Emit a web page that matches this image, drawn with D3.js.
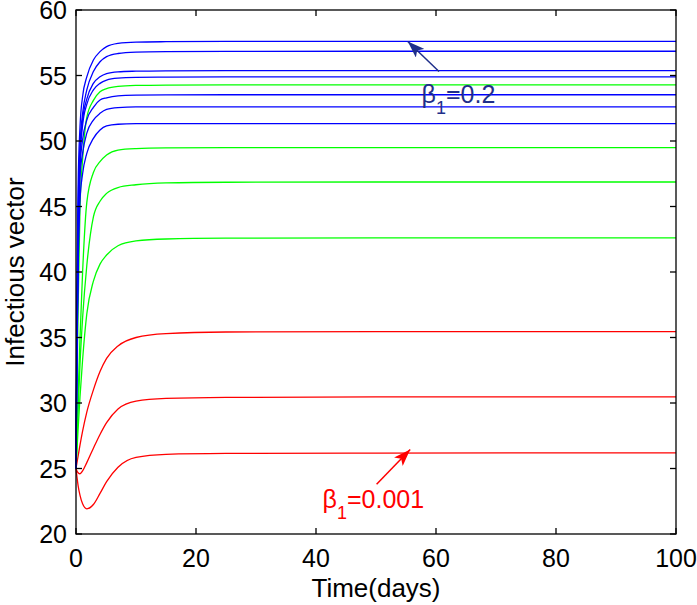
<!DOCTYPE html>
<html><head><meta charset="utf-8">
<script src="https://cdn.jsdelivr.net/npm/d3@7/dist/d3.min.js"></script>
<style>body{margin:0;background:#fff}svg{display:block}text{font-family:"Liberation Sans",Arial,sans-serif}</style>
</head><body><svg id="c" width="697" height="605"></svg>
<script>
const time = [0, 0.15, 0.35, 0.67, 1.1, 1.8, 2.9, 4, 5.1, 7, 10, 15, 25, 50, 100];
const blue1 = [25, 38, 46.5, 51.1, 53.4, 54.9, 56.18, 56.82, 57.2, 57.45, 57.55, 57.58, 57.6, 57.6, 57.6];
const blue2 = [25, 36, 44.5, 49.6, 52.1, 53.9, 55.3, 56.05, 56.44, 56.68, 56.78, 56.82, 56.84, 56.85, 56.85];
const blue3 = [25, 35, 43.5, 49.0, 51.6, 53.2, 54.4, 54.9, 55.15, 55.28, 55.33, 55.36, 55.37, 55.37, 55.37];
const blue4 = [25, 34.5, 43, 48.5, 51.2, 52.8, 53.9, 54.4, 54.65, 54.8, 54.86, 54.88, 54.9, 54.9, 54.9];
const blue5 = [25, 34, 42, 48.0, 50.1, 51.6, 52.57, 53.13, 53.3, 53.45, 53.5, 53.52, 53.53, 53.53, 53.53];
const blue6 = [25, 33.5, 41, 47.3, 49.06, 50.6, 51.6, 52.11, 52.42, 52.55, 52.6, 52.6, 52.6, 52.6, 52.6];
const blue7 = [25, 33, 40, 45.5, 47.5, 49.06, 50.2, 50.84, 51.15, 51.28, 51.32, 51.33, 51.33, 51.33, 51.33];
const green1 = [25, 31, 37, 45, 48.6, 51.8, 53.1, 53.76, 54.0, 54.17, 54.24, 54.27, 54.28, 54.28, 54.28];
const green2 = [25, 27.5, 30.5, 35, 40, 45.3, 47.6, 48.42, 48.93, 49.31, 49.42, 49.47, 49.49, 49.5, 49.5];
const green3 = [25, 27, 29.5, 33, 36.5, 40.5, 44.2, 45.4, 46.0, 46.45, 46.66, 46.8, 46.85, 46.87, 46.87];
const green4 = [25, 26.3, 28, 30.5, 33.3, 36.8, 39.3, 40.6, 41.3, 42.0, 42.37, 42.52, 42.58, 42.6, 42.6];
const red1 = [25, 25.4, 25.95, 26.8, 27.85, 29.3, 31.0, 32.4, 33.4, 34.35, 35.0, 35.3, 35.42, 35.45, 35.45];
const red2 = [25, 24.82, 24.68, 24.6, 24.82, 25.45, 26.55, 27.6, 28.5, 29.55, 30.15, 30.35, 30.43, 30.46, 30.46];
const red3 = [25, 24.4, 23.7, 22.95, 22.3, 21.92, 22.25, 23.1, 24.0, 25.1, 25.85, 26.08, 26.15, 26.18, 26.2];
const xTicks = [0, 20, 40, 60, 80, 100];
const yTicks = [20, 25, 30, 35, 40, 45, 50, 55, 60];

const series = [
  {c: "#ff0000", v: red1}, {c: "#ff0000", v: red2}, {c: "#ff0000", v: red3},
  {c: "#00ff00", v: green1}, {c: "#00ff00", v: green2}, {c: "#00ff00", v: green3}, {c: "#00ff00", v: green4},
  {c: "#0000ff", v: blue1}, {c: "#0000ff", v: blue2}, {c: "#0000ff", v: blue3}, {c: "#0000ff", v: blue4},
  {c: "#0000ff", v: blue5}, {c: "#0000ff", v: blue6}, {c: "#0000ff", v: blue7}
];

const L = 76, R = 676, T = 10, B = 534;
const svg = d3.select("#c");
const x = d3.scaleLinear().domain([0, 100]).range([L, R]);
const y = d3.scaleLinear().domain([20, 60]).range([B, T]);

const defs = svg.append("defs");
function marker(id, col) {
  defs.append("marker").attr("id", id).attr("viewBox", "0 0 17 12").attr("refX", 17).attr("refY", 6)
    .attr("markerWidth", 17).attr("markerHeight", 12).attr("markerUnits", "userSpaceOnUse").attr("orient", "auto")
    .append("path").attr("d", "M0,0 L17,6 L0,12 L4,6 Z").attr("fill", col);
}
marker("mb", "#1f2f8a");
marker("mr", "#ff0000");

const line = d3.line().x((d, i) => x(time[i])).y(d => y(d)).curve(d3.curveMonotoneX);
svg.append("g").selectAll("path").data(series).join("path")
  .attr("d", d => line(d.v)).attr("fill", "none").attr("stroke", d => d.c).attr("stroke-width", 1.3);

// axes
const tl = 6;
const ax = svg.append("g").attr("stroke", "#000").attr("stroke-width", 1.3).attr("fill", "none");
ax.append("rect").attr("x", L).attr("y", T).attr("width", R - L).attr("height", B - T);
xTicks.forEach(t => {
  ax.append("line").attr("x1", x(t)).attr("x2", x(t)).attr("y1", B).attr("y2", B - tl);
  ax.append("line").attr("x1", x(t)).attr("x2", x(t)).attr("y1", T).attr("y2", T + tl);
});
yTicks.forEach(t => {
  ax.append("line").attr("y1", y(t)).attr("y2", y(t)).attr("x1", L).attr("x2", L + tl);
  ax.append("line").attr("y1", y(t)).attr("y2", y(t)).attr("x1", R).attr("x2", R - tl);
});
const fs = 25;
svg.append("g").selectAll("text").data(xTicks).join("text")
  .attr("x", d => x(d)).attr("y", 567).attr("text-anchor", "middle").attr("font-size", fs).text(d => d);
svg.append("g").selectAll("text").data(yTicks).join("text")
  .attr("x", L - 9).attr("y", d => y(d)).attr("dy", "0.37em").attr("text-anchor", "end").attr("font-size", fs).text(d => d);
svg.append("text").attr("x", (L + R) / 2).attr("y", 597).attr("text-anchor", "middle").attr("font-size", 26).text("Time(days)");
svg.append("text").attr("transform", `translate(24,${(T + B) / 2}) rotate(-90)`).attr("text-anchor", "middle").attr("font-size", 26).text("Infectious vector");

// annotations
function annot(col, mk, tail, tip, pos, label) {
  svg.append("line").attr("x1", x(tail[0])).attr("y1", y(tail[1])).attr("x2", x(tip[0])).attr("y2", y(tip[1]))
    .attr("stroke", col).attr("stroke-width", 1.5).attr("marker-end", `url(#${mk})`);
  const t = svg.append("text").attr("x", x(pos[0])).attr("y", y(pos[1])).attr("font-size", 25).attr("fill", col);
  t.append("tspan").text("β");
  t.append("tspan").attr("font-size", 18).attr("dy", 11).text("1");
  t.append("tspan").attr("dy", -11).text(label);
}
annot("#1f2f8a", "mb", [60.5, 55.3], [55.3, 57.6], [57.6, 52.92], "=0.2");
annot("#ff0000", "mr", [50.1, 23.8], [55.7, 26.45], [41.1, 21.98], "=0.001");
</script></body></html>
